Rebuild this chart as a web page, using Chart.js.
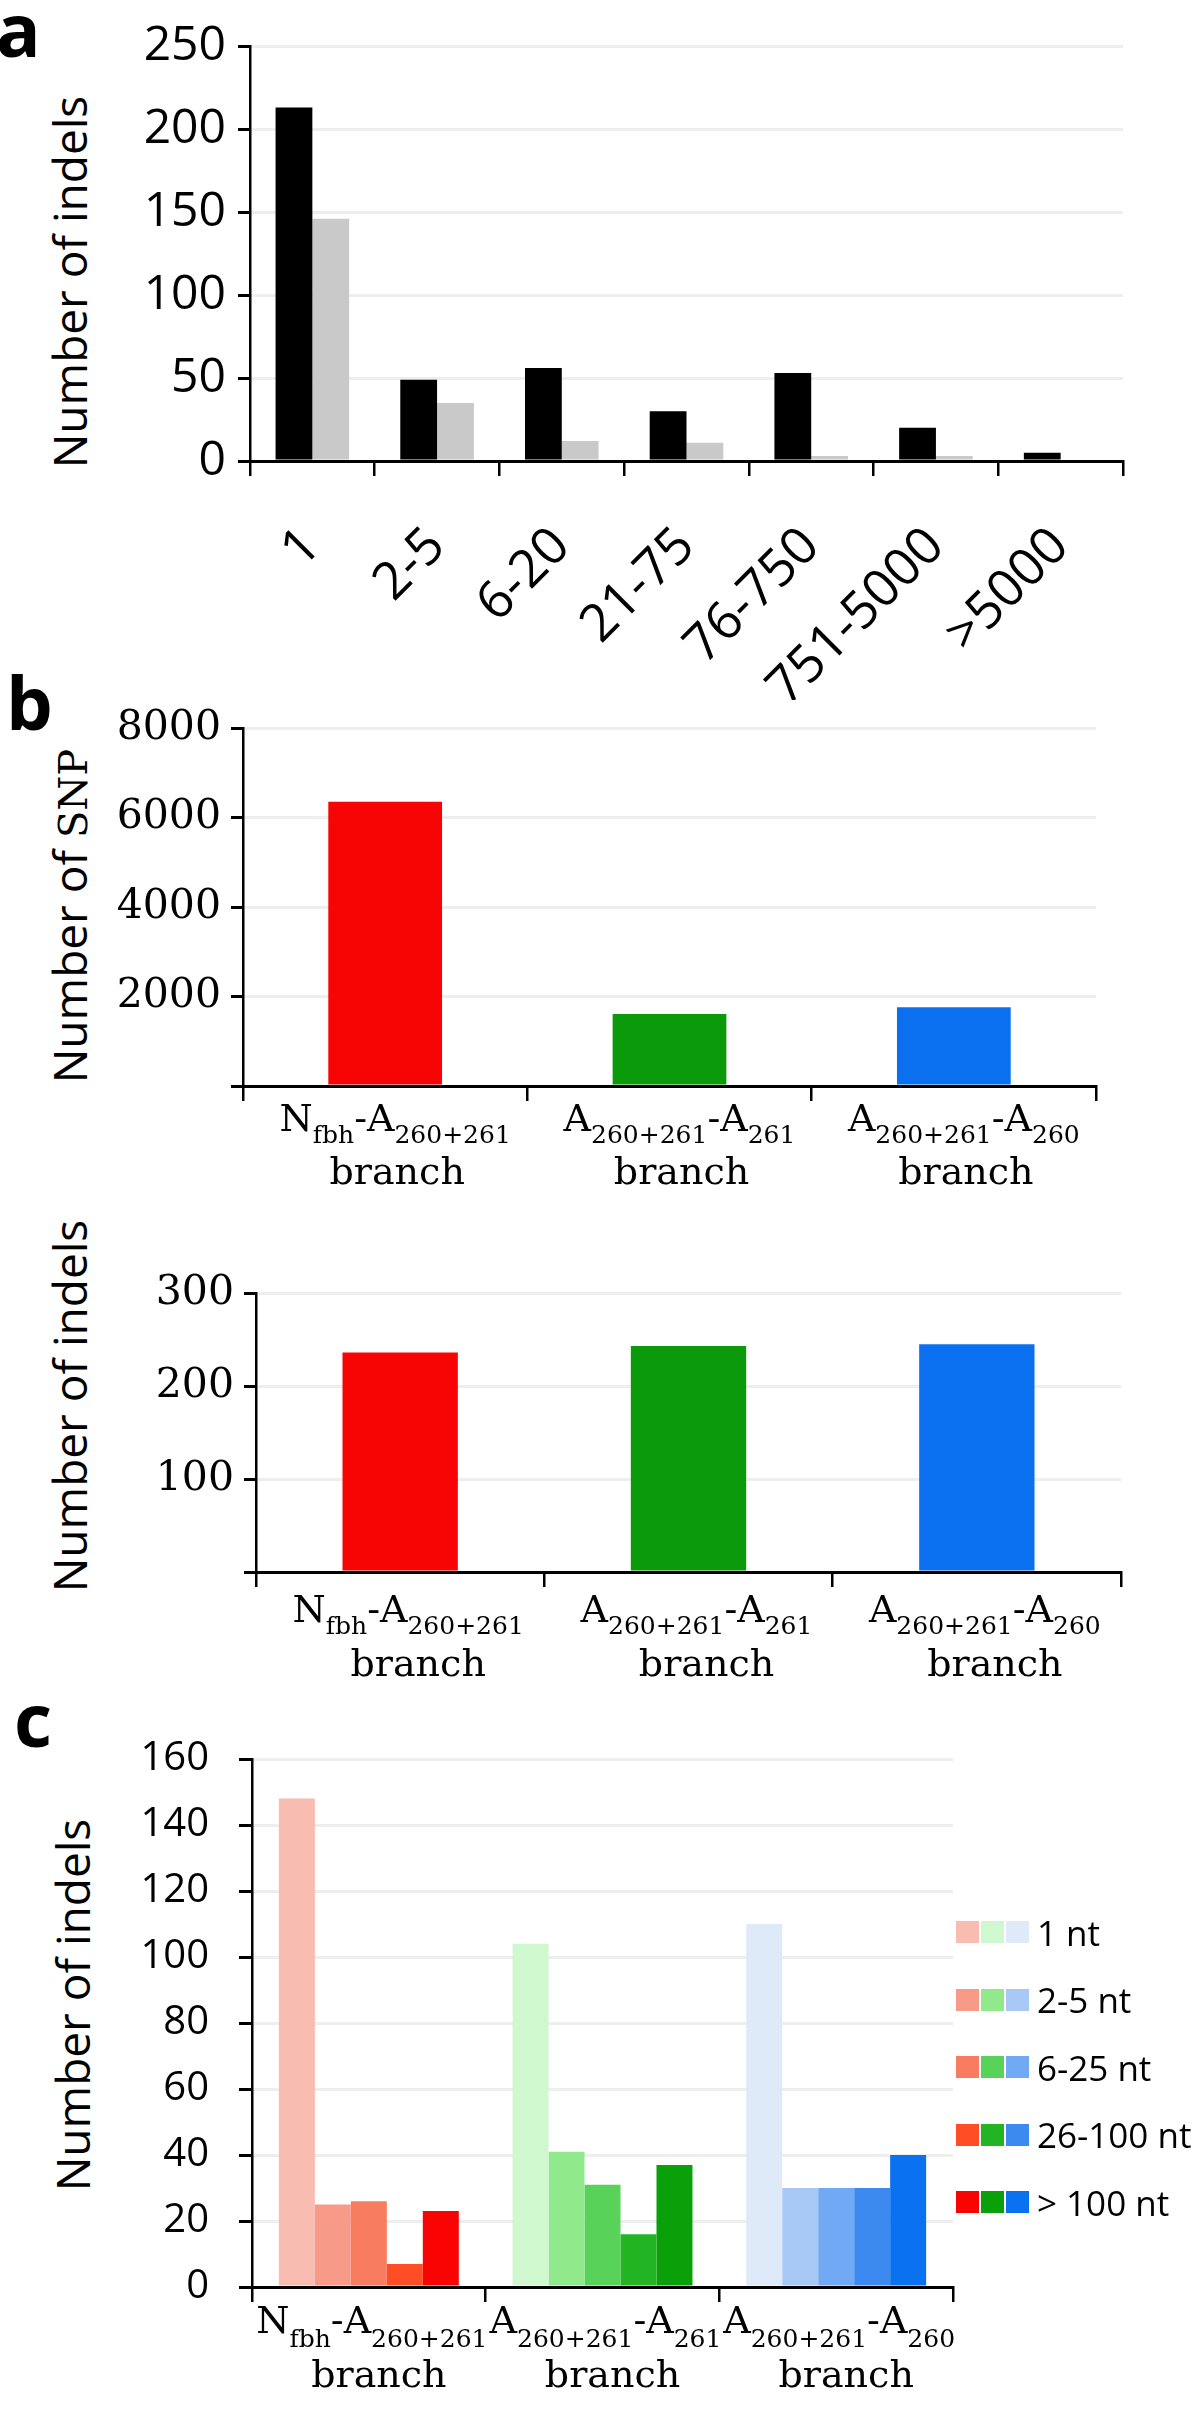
<!DOCTYPE html>
<html>
<head>
<meta charset="utf-8">
<script src="https://cdn.jsdelivr.net/npm/chart.js@4.4.0/dist/chart.umd.min.js"></script>
<style>
  body { margin: 0; background: #fff; width: 1200px; height: 2432px; position: relative; overflow: hidden; }
  canvas { position: absolute; left: 0; }
  .letter { position: absolute; font: bold 74px "Open Sans", sans-serif; line-height: 1; color: #000; }
  .ytitle { position: absolute; width: 0; height: 0; }
  .ytitle > span { position: absolute; left: 0; top: 0; white-space: nowrap; transform: translate(-50%, -50%) rotate(-90deg);
                   font: 46px "Open Sans", sans-serif; color: #000; }
  .ytitle > span > .serif { font-family: "DejaVu Serif", serif; font-size: 40px; }
  .legrow { position: absolute; left: 956px; height: 40px; display: flex; align-items: center; }
  .sw { width: 23px; height: 22px; margin-right: 2px; }
  .legtxt { font: 35px "Open Sans", sans-serif; margin-left: 6px; color: #000; }
</style>
</head>
<body>

<div class="letter" style="left:-4px; top:-8px">a</div>
<div class="letter" style="left:6px; top:665px">b</div>
<div class="letter" style="left:14px; top:1682px">c</div>

<div class="ytitle" style="left:69px; top:282px"><span>Number of indels</span></div>
<div class="ytitle" style="left:69px; top:916px"><span>Number of <span class="serif">SNP</span></span></div>
<div class="ytitle" style="left:69px; top:1406px"><span>Number of indels</span></div>
<div class="ytitle" style="left:72px; top:2005px"><span>Number of indels</span></div>

<canvas id="chartA" width="1200" height="700" style="top:0px"></canvas>
<canvas id="chartB1" width="1200" height="560" style="top:680px"></canvas>
<canvas id="chartB2" width="1200" height="475" style="top:1245px"></canvas>
<canvas id="chartC" width="1200" height="727" style="top:1705px"></canvas>
<div id="legendC"></div>

<script>
/* ================= DATA ================= */
// panel a
const sizeBins = ["1", "2-5", "6-20", "21-75", "76-750", "751-5000", ">5000"];
const indelsBlack = [213, 49, 56, 30, 53, 20, 5];
const indelsGrey = [146, 35, 12, 11, 3, 3, 0];

// panel b
const branchNames = ["Nfbh-A260+261 branch", "A260+261-A261 branch", "A260+261-A260 branch"];
const branchParts = [
    [["N", 0], ["fbh", 1], ["-A", 0], ["260+261", 1]],
    [["A", 0], ["260+261", 1], ["-A", 0], ["261", 1]],
    [["A", 0], ["260+261", 1], ["-A", 0], ["260", 1]]
];
const branchWord = "branch";
const snpCounts = [6350, 1610, 1760];
const branchIndels = [236, 243, 245];
const branchColors = ["#F70505", "#0A9A0A", "#0A70F0"];

// panel c
const lengthClasses = ["1 nt", "2-5 nt", "6-25 nt", "26-100 nt", "> 100 nt"];
const indels1nt = [148, 104, 110];
const indels2to5 = [25, 41, 30];
const indels6to25 = [26, 31, 30];
const indels26to100 = [7, 16, 30];
const indelsOver100 = [23, 37, 40];
const redShades = ["#F8BCB0", "#F89A88", "#F87C60", "#FF4D25", "#FA0303"];
const greenShades = ["#CFF8CF", "#90EA8C", "#58D258", "#22B422", "#0AA00A"];
const blueShades = ["#DFEAF8", "#A8C8F6", "#72A9F4", "#3C8AF0", "#0A72F0"];

/* ================= HELPERS ================= */
const GRID = "#eeeeee";

function fixWidth(w) { return s => { s.width = w; }; }
function fixHeight(h) { return s => { s.height = h; }; }

// draws the x labels with subscripts and a second "branch" line
const richLabels = {
    id: "richLabels",
    afterDraw(chart, args, opts) {
        if (!opts.parts) return;
        const ctx = chart.ctx;
        const xs = chart.scales.x;
        const y0 = xs.top;
        ctx.save();
        ctx.fillStyle = "#000";
        ctx.textBaseline = "alphabetic";
        opts.parts.forEach((parts, i) => {
            const cx = xs.getPixelForValue(i);
            let w = 0;
            parts.forEach(p => {
                ctx.font = (p[1] ? opts.sub : opts.size) + 'px "DejaVu Serif"';
                w += ctx.measureText(p[0]).width;
            });
            let x = cx + opts.shift1 - w / 2;
            ctx.textAlign = "left";
            parts.forEach(p => {
                ctx.font = (p[1] ? opts.sub : opts.size) + 'px "DejaVu Serif"';
                ctx.fillText(p[0], x, y0 + (p[1] ? opts.dySub : opts.dy));
                x += ctx.measureText(p[0]).width;
            });
            ctx.font = opts.size + 'px "DejaVu Serif"';
            ctx.textAlign = "center";
            ctx.fillText(opts.line2, cx + opts.shift2, y0 + opts.dy2);
        });
        ctx.restore();
    }
};

function xAxisBoundaryTicks(height) {
    return {
        afterFit: fixHeight(height),
        grid: { display: true, drawOnChartArea: false, drawTicks: true, offset: true,
                tickLength: 15, color: "#000", lineWidth: 2.5 },
        border: { display: true, color: "#000", width: 3 },
        ticks: { display: false }
    };
}

/* ================= PANEL A ================= */
new Chart(document.getElementById("chartA"), {
    type: "bar",
    data: {
        labels: sizeBins,
        datasets: [
            { data: indelsBlack, backgroundColor: "#000000" },
            { data: indelsGrey, backgroundColor: "#C9C9C9" }
        ]
    },
    options: {
        responsive: false,
        animation: false,
        layout: { padding: { top: 46, right: 77, left: 0, bottom: 0 } },
        datasets: { bar: { categoryPercentage: 0.59, barPercentage: 1.0, borderWidth: 0 } },
        plugins: { legend: { display: false }, tooltip: { enabled: false } },
        scales: {
            x: {
                afterFit: fixHeight(239),
                grid: { display: true, drawOnChartArea: false, offset: true, tickLength: 15, color: "#000", lineWidth: 2.5 },
                border: { color: "#000", width: 3 },
                ticks: { minRotation: 45, maxRotation: 45, padding: 40, color: "#000",
                         font: { family: "Open Sans", size: 52 } }
            },
            y: {
                min: 0, max: 250,
                afterFit: fixWidth(250),
                grid: { color: GRID, lineWidth: 3, tickColor: "#000", tickLength: 12 },
                border: { color: "#000", width: 2.5 },
                ticks: { stepSize: 50, padding: 12, color: "#000", font: { family: "Open Sans", size: 48 } }
            }
        }
    }
});

/* ================= PANEL B ================= */
function branchChart(id, values, max, step, yWidth, rightPad, xHeight, lbl) {
    return new Chart(document.getElementById(id), {
        type: "bar",
        data: {
            labels: branchNames,
            datasets: [{ data: values, backgroundColor: branchColors }]
        },
        options: {
            responsive: false,
            animation: false,
            layout: { padding: { top: 48, right: rightPad, left: 0, bottom: 0 } },
            datasets: { bar: { categoryPercentage: 0.4, barPercentage: 1.0, borderWidth: 0 } },
            plugins: {
                legend: { display: false }, tooltip: { enabled: false },
                richLabels: Object.assign({ parts: branchParts, line2: branchWord, size: 38, sub: 25 }, lbl)
            },
            scales: {
                x: xAxisBoundaryTicks(xHeight),
                y: {
                    min: 0, max: max,
                    afterFit: fixWidth(yWidth),
                    grid: { color: GRID, lineWidth: 3, tickColor: "#000", tickLength: 12 },
                    border: { color: "#000", width: 2.5 },
                    ticks: { stepSize: step, padding: 10, color: "#000",
                             font: { family: "DejaVu Serif", size: 41 },
                             callback: v => (v === 0 ? "" : v) }
                }
            }
        },
        plugins: [richLabels]
    });
}

branchChart("chartB1", snpCounts, 8000, 2000, 243, 104, 154,
    { dy: 45, dySub: 57, dy2: 98, shift1: 10, shift2: 12 });
branchChart("chartB2", branchIndels, 300, 100, 256, 79, 148,
    { dy: 50, dySub: 62, dy2: 104, shift1: 8, shift2: 18 });

/* ================= PANEL C ================= */
const classValues = [indels1nt, indels2to5, indels6to25, indels26to100, indelsOver100];

new Chart(document.getElementById("chartC"), {
    type: "bar",
    data: {
        labels: branchNames,
        datasets: classValues.map((vals, i) => ({
            label: lengthClasses[i],
            data: vals,
            backgroundColor: [redShades[i], greenShades[i], blueShades[i]]
        }))
    },
    options: {
        responsive: false,
        animation: false,
        layout: { padding: { top: 47, right: 247, left: 0, bottom: 0 } },
        datasets: { bar: { categoryPercentage: 0.77, barPercentage: 1.0, borderWidth: 0 } },
        plugins: {
            legend: { display: false }, tooltip: { enabled: false },
            richLabels: { parts: branchParts, line2: branchWord, size: 38, sub: 25,
                          dy: 46, dySub: 60, dy2: 100, shift1: 3, shift2: 10 }
        },
        scales: {
            x: xAxisBoundaryTicks(145),
            y: {
                min: 0, max: 160,
                afterFit: fixWidth(252),
                grid: { color: GRID, lineWidth: 3, tickColor: "#000", tickLength: 13 },
                border: { color: "#000", width: 2.5 },
                ticks: { stepSize: 20, padding: 30, color: "#000", font: { family: "Open Sans", size: 40 } }
            }
        }
    },
    plugins: [richLabels]
});

/* legend for panel c: one swatch per branch colour */
const legendC = document.getElementById("legendC");
lengthClasses.forEach((name, i) => {
    const row = document.createElement("div");
    row.className = "legrow";
    row.style.top = (1912 + i * 67.5) + "px";
    [redShades[i], greenShades[i], blueShades[i]].forEach(c => {
        const sw = document.createElement("div");
        sw.className = "sw";
        sw.style.background = c;
        row.appendChild(sw);
    });
    const txt = document.createElement("span");
    txt.className = "legtxt";
    txt.textContent = name;
    row.appendChild(txt);
    legendC.appendChild(row);
});
</script>
</body>
</html>
